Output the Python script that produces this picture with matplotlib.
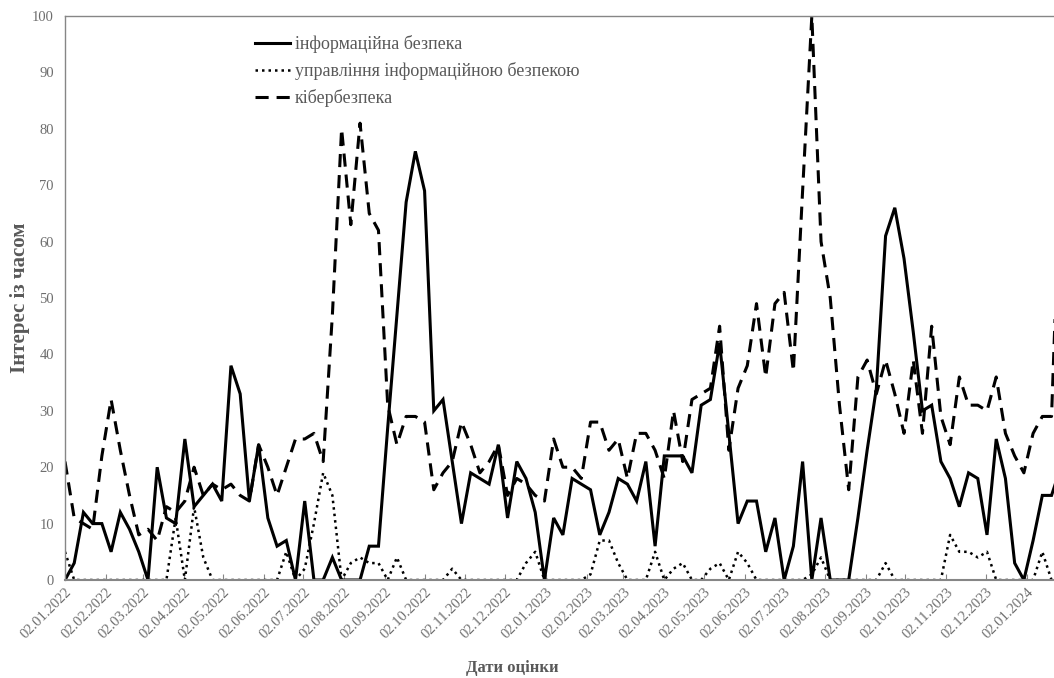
import matplotlib
matplotlib.use("Agg")
import matplotlib.pyplot as plt
import matplotlib.dates as mdates
import pandas as pd
import numpy as np

# ---- data (weekly, starting 02.01.2022) ----
start_date = "2022-01-02"
n_weeks = 109

info_security = [0, 3, 12, 10, 10, 5, 12, 9, 5, 0,
                 20, 11, 10, 25, 13, 15, 17, 14, 38, 33,
                 14, 24, 11, 6, 7, 0, 14, 0, 0, 4,
                 0, 0, 0, 6, 6, 27, 47, 67, 76, 69,
                 30, 32, 21, 10, 19, 18, 17, 24, 11, 21,
                 18, 12, 0, 11, 8, 18, 17, 16, 8, 12,
                 18, 17, 14, 21, 6, 22, 22, 22, 19, 31,
                 32, 42, 26, 10, 14, 14, 5, 11, 0, 6,
                 21, 0, 11, 0, 0, 0, 11, 23, 34, 61,
                 66, 57, 44, 30, 31, 21, 18, 13, 19, 18,
                 8, 25, 18, 3, 0, 7, 15, 15, 20]

info_sec_management = [5, 0, 0, 0, 0, 0, 0, 0, 0, 0,
                       0, 0, 11, 0, 13, 4, 0, 0, 0, 0,
                       0, 0, 0, 0, 5, 0, 2, 10, 19, 15,
                       0, 3, 4, 3, 3, 0, 4, 0, 0, 0,
                       0, 0, 2, 0, 0, 0, 0, 0, 0, 0,
                       3, 5, 0, 0, 0, 0, 0, 1, 7, 7,
                       3, 0, 0, 0, 5, 0, 2, 3, 0, 0,
                       2, 3, 0, 5, 3, 0, 0, 0, 0, 0,
                       0, 1, 4, 0, 0, 0, 0, 0, 0, 3,
                       0, 0, 0, 0, 0, 0, 8, 5, 5, 4,
                       5, 0, 0, 0, 0, 0, 5, 0, 0]

cybersecurity = [21, 11, 10, 9, 22, 32, 23, 15, 8, 9,
                 7, 13, 12, 14, 20, 15, 17, 16, 17, 15,
                 14, 24, 20, 15, 20, 25, 25, 26, 21, 47,
                 80, 63, 81, 65, 62, 31, 24, 29, 29, 28,
                 16, 19, 21, 28, 24, 19, 21, 24, 15, 18,
                 17, 15, 14, 25, 20, 20, 18, 28, 28, 23,
                 25, 18, 26, 26, 23, 18, 30, 21, 32, 33,
                 34, 45, 23, 34, 38, 49, 36, 49, 51, 37,
                 69, 100, 60, 50, 31, 16, 36, 39, 33, 39,
                 33, 26, 39, 26, 45, 29, 24, 36, 31, 31,
                 30, 36, 26, 22, 19, 26, 29, 29, 75]

series_labels = ["інформаційна безпека",
                 "управління інформаційною безпекою",
                 "кібербезпека"]

y_ticks = list(range(0, 101, 10))
x_label = "Дати оцінки"
y_label = "Інтерес із часом"

dates = pd.date_range(start_date, periods=n_weeks, freq="7D")
tick_dates = pd.date_range("2022-01-01", "2024-01-01", freq="MS") + pd.Timedelta(days=1)

# ---- figure ----
plt.rcParams["font.family"] = ["Liberation Serif", "DejaVu Serif"]
W, H = 1054, 678
fig = plt.figure(figsize=(W / 100, H / 100), dpi=100)
left, right, top, bottom = 65, 1054, 16, 580
ax = fig.add_axes([left / W, (H - bottom) / H, (right - left) / W, (bottom - top) / H])

text_gray = "#595959"
tick_gray = "#6e6e6e"
axis_gray = "#868686"

ax.plot(dates, info_security, color="black", lw=2.2, ls="-",
        solid_joinstyle="miter", label=series_labels[0])
ax.plot(dates, info_sec_management, color="black", lw=1.8, ls=(0, (1, 1.6)),
        dash_capstyle="butt", label=series_labels[1])
ax.plot(dates, cybersecurity, color="black", lw=2.2, ls=(0, (4.3, 2.6)),
        dash_capstyle="butt", label=series_labels[2])

week = pd.Timedelta(days=7)
span_weeks = (right - left) / 9.22
ax.set_xlim(dates[0], dates[0] + week * span_weeks)
ax.set_ylim(0, 100)

ax.set_yticks(y_ticks)
ax.set_xticks(tick_dates)
ax.xaxis.set_major_formatter(mdates.DateFormatter("%d.%m.%Y"))
ax.tick_params(axis="y", length=0, pad=8, labelsize=10.5, labelcolor=tick_gray)
ax.tick_params(axis="x", length=4, direction="in", color=axis_gray, pad=4,
               labelsize=10.5, labelcolor=tick_gray)
for lab in ax.get_xticklabels():
    lab.set_rotation(45)
    lab.set_ha("right")
    lab.set_va("top")
    lab.set_rotation_mode("anchor")

for side in ["left", "top", "bottom"]:
    ax.spines[side].set_color(axis_gray)
    ax.spines[side].set_linewidth(1.0)
ax.spines["bottom"].set_linewidth(1.5)
ax.spines["right"].set_visible(False)

fig.text(20 / W, 1 - 298 / H, y_label, rotation=90, ha="center", va="center",
         fontsize=15, fontweight="bold", color=text_gray)
fig.text(512 / W, 1 - 668 / H, x_label, ha="center", va="center",
         fontsize=12, fontweight="bold", color=text_gray)

leg = ax.legend(loc="upper left",
                bbox_to_anchor=((255 - left) / (right - left), (bottom - 35) / (bottom - top)),
                frameon=False, fontsize=13, handlelength=1.95, handletextpad=0.25,
                labelspacing=0.5, borderpad=0, borderaxespad=0)
for t in leg.get_texts():
    t.set_color(text_gray)

fig.savefig("out.png", dpi=100)
